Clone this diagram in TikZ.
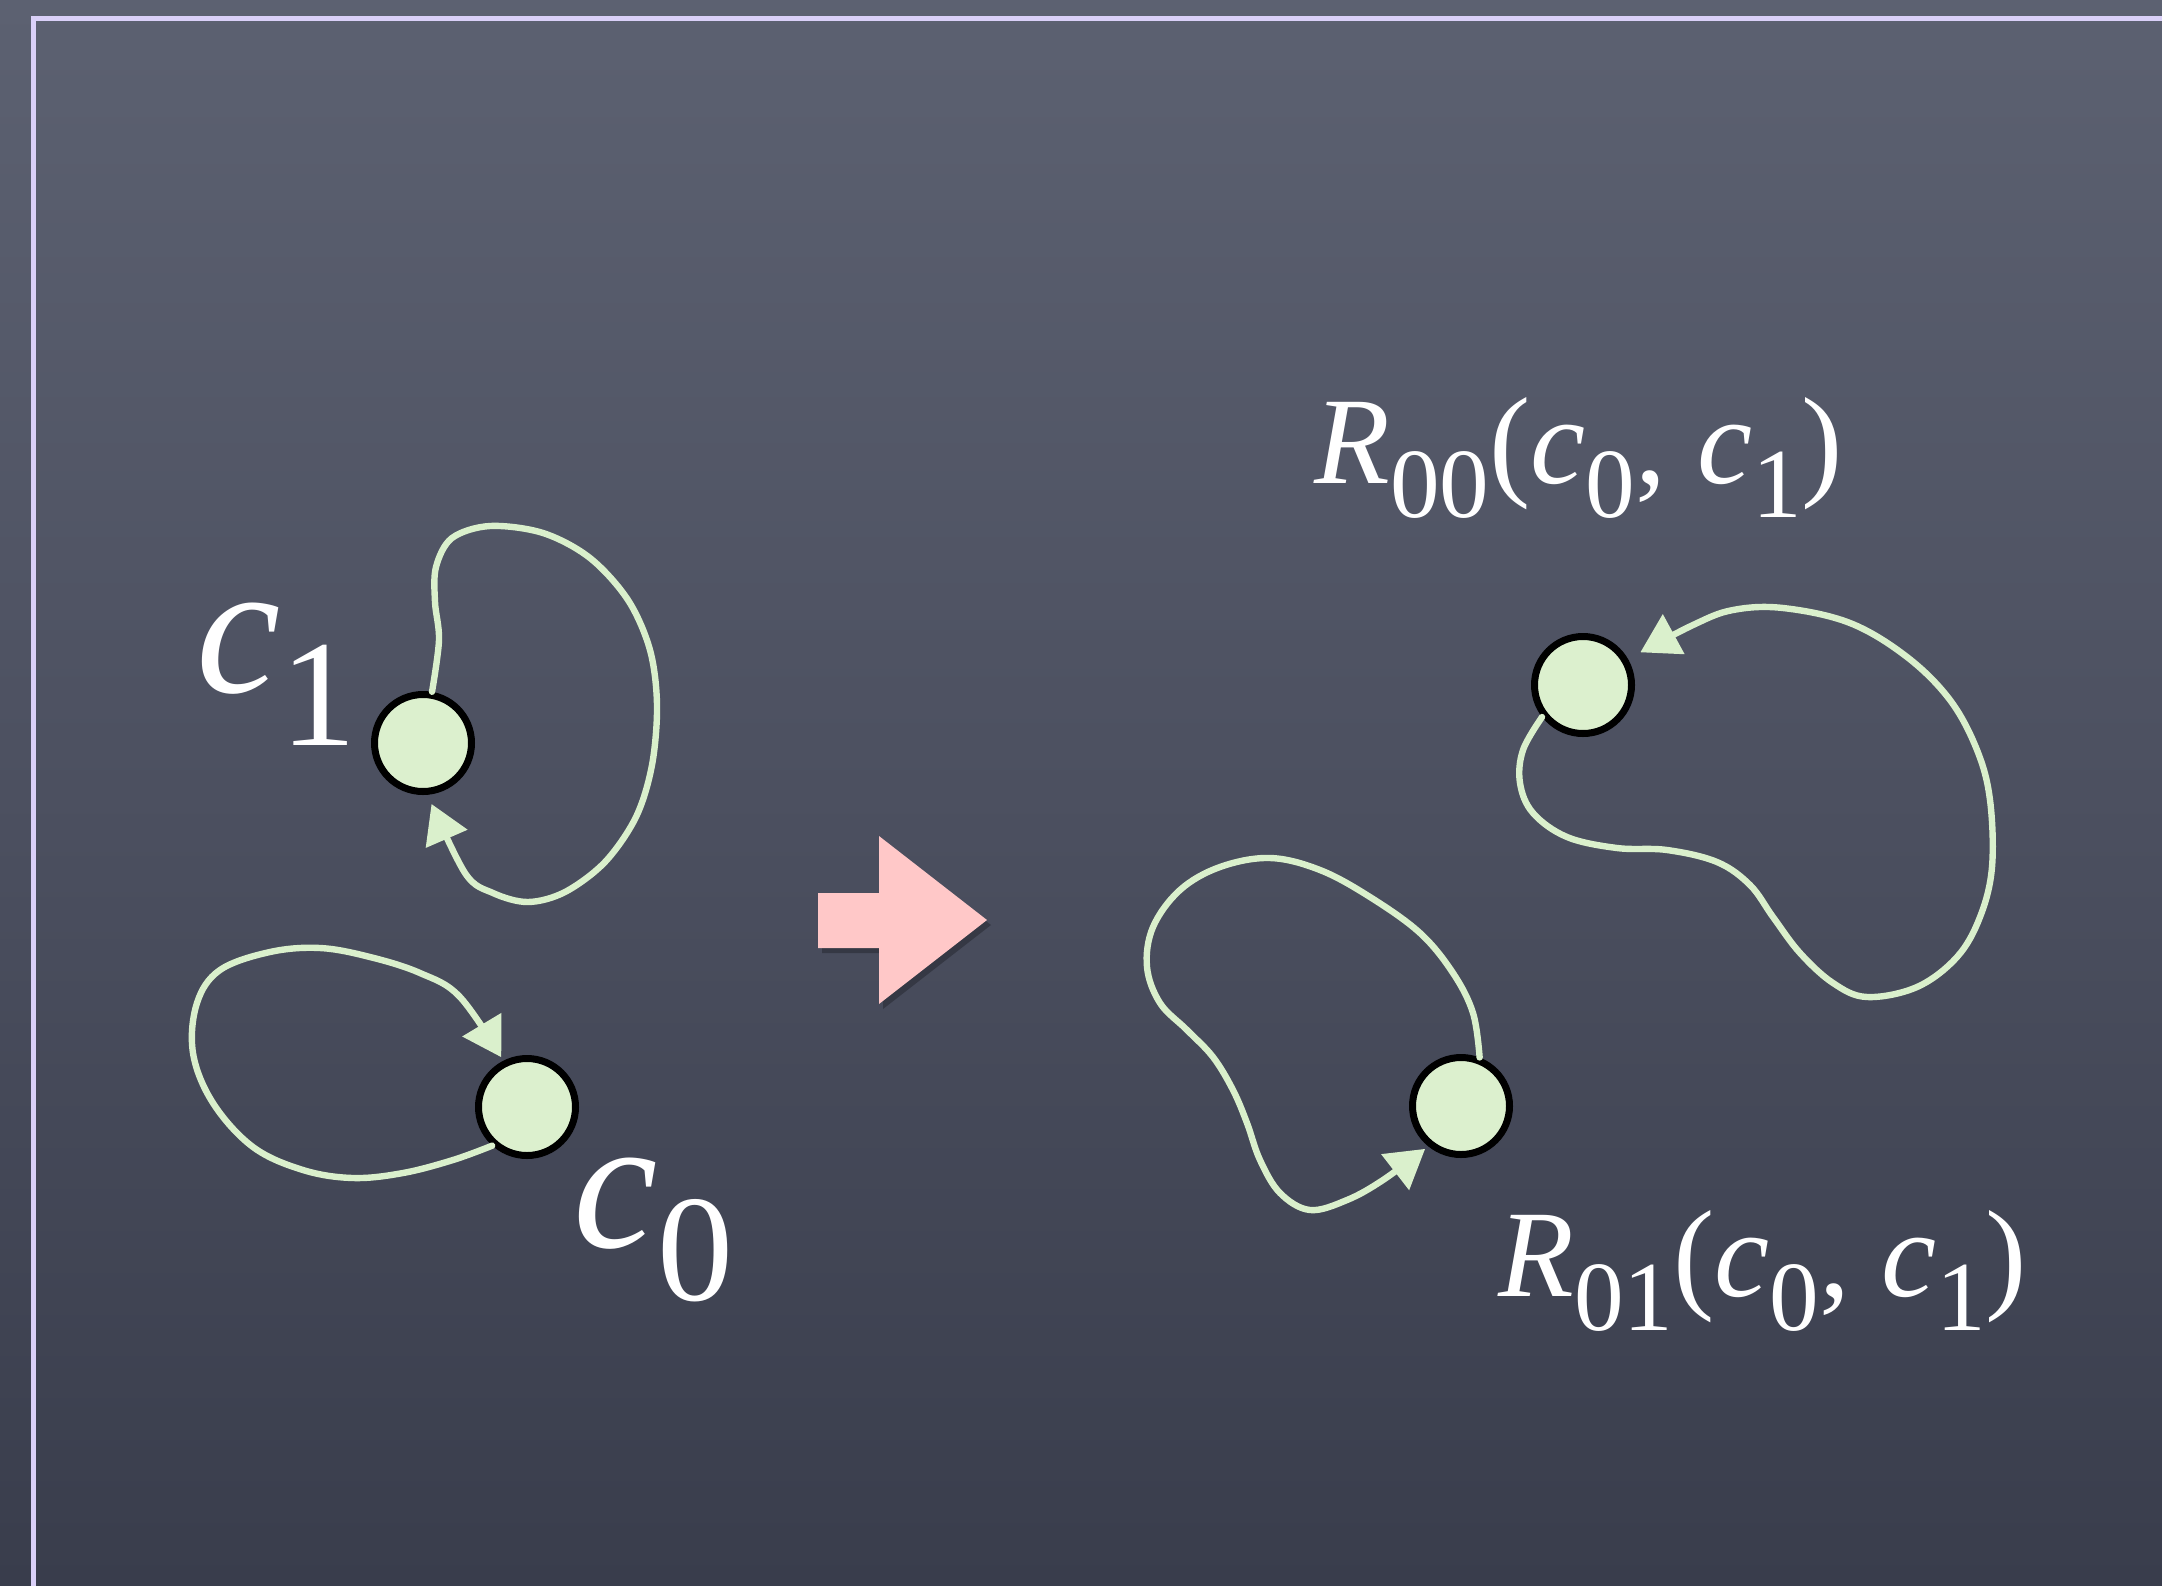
\documentclass[tikz,border=0pt]{standalone}
\usepackage{fontspec}
\setmainfont{Liberation Serif}
\usetikzlibrary{arrows.meta}
\definecolor{bgtop}{RGB}{92,97,113}
\definecolor{bgmid}{RGB}{76,80,96}
\definecolor{bgbot}{RGB}{57,61,76}
\definecolor{framecol}{RGB}{218,208,248}
\definecolor{chalk}{RGB}{218,240,204}
\definecolor{dotfill}{RGB}{220,240,206}
\definecolor{pinkarrow}{RGB}{255,200,200}
\newcommand{\lsub}[1]{\raisebox{-0.28em}{\scalebox{0.8}{#1}}}
\begin{document}
\begin{tikzpicture}[x=0.5pt,y=-0.5pt,
  dot/.style={circle, draw=black, line width=3.5pt, fill=dotfill, minimum size=48.5pt, inner sep=0pt},
  chalkline/.style={draw=chalk, line width=3.2pt, line cap=round, line join=round,
    -{Triangle[length=19pt,width=22pt]}},
  lab/.style={text=white, anchor=base west, inner sep=0pt},
  biglab/.style={lab, font=\fontsize{95}{100}\selectfont},
  medlab/.style={lab, font=\fontsize{62}{68}\selectfont}]
\useasboundingbox (0,0) rectangle (2162,1585);
\clip (0,0) rectangle (2162,1585);
\shade[top color=bgtop, bottom color=bgbot, middle color=bgmid] (0,0) rectangle (2162,1585);
\draw[framecol, line width=2.5pt] (33.5,18) rectangle (2260,1660);

% pink arrow
\begin{scope}[shift={(4,5)}]
\fill[black, opacity=0.25] (818,893) -- (879,893) -- (879,836) -- (987,920) -- (879,1004) -- (879,948) -- (818,948) -- cycle;
\end{scope}
\fill[pinkarrow] (818,893) -- (879,893) -- (879,836) -- (987,920) -- (879,1004) -- (879,948) -- (818,948) -- cycle;

% dots
\node[dot] (c1) at (423,743) {};
\node[dot] (c0) at (527,1107) {};
\node[dot] (n00) at (1583,685) {};
\node[dot] (n01) at (1461,1106) {};

% labels
\node[biglab] (l1) at (196,692) {\textit{c}\lsub{1}};
\node[biglab] (l0) at (573,1247) {\textit{c}\lsub{0}};
\node[medlab] (l00) at (1314,483) {\textit{R}\lsub{00}(\textit{c}\lsub{0}, \textit{c}\lsub{1})};
\node[medlab] (l01) at (1498,1296) {\textit{R}\lsub{01}(\textit{c}\lsub{0}, \textit{c}\lsub{1})};

% loops
\draw[chalkline, shorten >=5pt] plot[smooth, tension=0.55] coordinates {(c1.80) (439,640) (435,602) (436,567) (452,538) (490,526) (543,533) (590,558) (628,600) (650,650) (657,705) (652,765) (636,817) (605,862) (565,892) (528,902) (493,893) (465,873) (c1.-85)};
\draw[chalkline, shorten >=2pt] plot[smooth, tension=0.6] coordinates {(c0.228) (453,1160) (403,1173) (353,1178) (303,1170) (253,1147) (213,1103) (193,1053) (197,1003) (220,970) (270,952) (320,948) (370,957) (420,973) (460,997) (c0.117)};
\draw[chalkline, shorten >=7pt] plot[smooth, tension=0.6] coordinates {(n00.218) (1523,750) (1520,783) (1533,813) (1567,837) (1617,848) (1667,850) (1717,862) (1750,885) (1773,917) (1800,953) (1833,983) (1867,997) (1917,987) (1957,957) (1980,917) (1992,867) (1990,800) (1977,750) (1950,700) (1907,657) (1850,623) (1783,608) (1733,610) (1693,625) (n00.30)};
\draw[chalkline, shorten >=2pt] plot[smooth, tension=0.6] coordinates {(n01.69) (1473,1013) (1453,973) (1420,933) (1370,897) (1320,870) (1270,858) (1220,867) (1180,890) (1153,927) (1147,967) (1160,1003) (1187,1030) (1213,1057) (1233,1090) (1247,1123) (1260,1160) (1280,1193) (1310,1210) (1347,1200) (1383,1180) (n01.231)};
\end{tikzpicture}
\end{document}
